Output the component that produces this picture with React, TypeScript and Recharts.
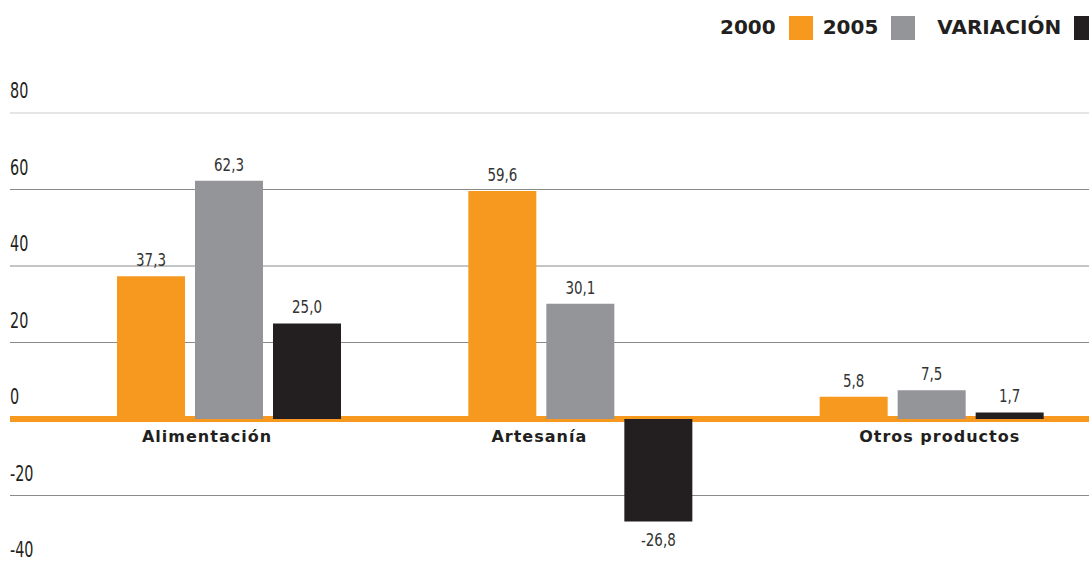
import { BarChart, Bar, XAxis, YAxis, CartesianGrid, LabelList, Legend } from 'recharts';

const categories = ['Alimentación', 'Artesanía', 'Otros productos'];
const values2000 = [37.3, 59.6, 5.8];
const values2005 = [62.3, 30.1, 7.5];
const variation = [25.0, -26.8, 1.7];
const yTicks = [-40, -20, 0, 20, 40, 60, 80];

// horizontal nudge of each category name from the middle bar (the original sets them by hand)
const categoryNudge = [-22, -41, 8];

const ORANGE = '#F7991F';
const GRAY = '#939598';
const BLACK = '#231F20';
const NARROW = "'DejaVu Sans Condensed', 'DejaVu Sans', sans-serif";

const data = categories.map((name, i) => ({
  name,
  y2000: values2000[i],
  y2005: values2005[i],
  variation: variation[i],
}));

const fmt = (v: number) => v.toFixed(1).replace('.', ',');

// value label above positive bars, below negative ones
const renderValue = (props: any) => {
  const vb = props.viewBox ?? props;
  const { x, y, width, height } = vb;
  const value = Number(props.value);
  const top = Math.min(y, y + height);
  const bottom = Math.max(y, y + height);
  const cx = x + width / 2;
  const ty = value < 0 ? bottom + 24 : top - 10;
  return (
    <text
      transform={`translate(${cx},${ty}) scale(0.83,1)`}
      x={0}
      y={0}
      textAnchor="middle"
      fill="#333"
      fontFamily={NARROW}
      fontSize={18}
    >
      {fmt(value)}
    </text>
  );
};

// category name drawn just below the zero line
const renderCategory = (props: any) => {
  const vb = props.viewBox ?? props;
  const { x, y, width, height } = vb;
  const base = Math.max(y, y + height);
  const nudge = categoryNudge[props.index] ?? 0;
  return (
    <text
      x={x + width / 2 + nudge}
      y={base + 23}
      textAnchor="middle"
      fill={BLACK}
      fontFamily="'DejaVu Sans', sans-serif"
      fontWeight="bold"
      fontSize={16}
      letterSpacing={1}
    >
      {props.value}
    </text>
  );
};

const renderYTick = (props: any) => {
  const { y, payload } = props;
  return (
    <text
      transform={`translate(10,${y - 15}) scale(0.8,1.03)`}
      x={0}
      y={0}
      textAnchor="start"
      fill={BLACK}
      fontFamily={NARROW}
      fontSize={20}
    >
      {payload.value}
    </text>
  );
};

const renderLegend = (props: any) => {
  const { payload } = props;
  return (
    <div style={{ display: 'flex', alignItems: 'center', whiteSpace: 'nowrap' }}>
      {payload.map((entry: any, i: number) => (
        <div
          key={`legend-${i}`}
          style={{ display: 'flex', alignItems: 'center', marginRight: i === 1 ? 22 : 10 }}
        >
          <span
            style={{
              fontFamily: "'DejaVu Sans', sans-serif",
              fontWeight: 'bold',
              fontSize: 20,
              color: BLACK,
            }}
          >
            {entry.value}
          </span>
          <span
            style={{
              display: 'inline-block',
              width: 24,
              height: 24,
              marginLeft: 13,
              marginTop: 3,
              background: entry.color,
            }}
          />
        </div>
      ))}
    </div>
  );
};

export default function App() {
  return (
    <div
      style={{
        position: 'absolute',
        left: 0,
        top: 0,
        width: 1089,
        height: 563,
        overflow: 'hidden',
        background: '#fff',
      }}
    >
      <BarChart
        width={1107}
        height={576}
        data={data}
        margin={{ top: 113, right: 0, bottom: 4, left: 9 }}
        barSize={68}
        barGap={10}
      >
        <CartesianGrid vertical={false} horizontalValues={[80]} stroke="#dcdcdc" strokeWidth={1.5} />
        <CartesianGrid vertical={false} horizontalValues={[60, 40, 20, -20]} stroke="#8a8a8a" strokeWidth={1} />
        <CartesianGrid vertical={false} horizontalValues={[0]} stroke={ORANGE} strokeWidth={6} />
        <XAxis dataKey="name" hide padding={{ left: 43, right: 0 }} />
        <YAxis
          domain={[-40, 80]}
          ticks={yTicks}
          width={1}
          axisLine={false}
          tickLine={false}
          tick={renderYTick}
          interval={0}
        />
        <Legend
          layout="horizontal"
          verticalAlign="middle"
          align="center"
          content={renderLegend}
          wrapperStyle={{ top: 13, left: 720, width: 369 }}
        />
        <Bar dataKey="y2000" name="2000" fill={ORANGE} isAnimationActive={false}>
          <LabelList dataKey="y2000" content={renderValue} />
        </Bar>
        <Bar dataKey="y2005" name="2005" fill={GRAY} isAnimationActive={false}>
          <LabelList dataKey="y2005" content={renderValue} />
          <LabelList dataKey="name" content={renderCategory} />
        </Bar>
        <Bar dataKey="variation" name="VARIACIÓN" fill={BLACK} isAnimationActive={false}>
          <LabelList dataKey="variation" content={renderValue} />
        </Bar>
      </BarChart>
    </div>
  );
}
